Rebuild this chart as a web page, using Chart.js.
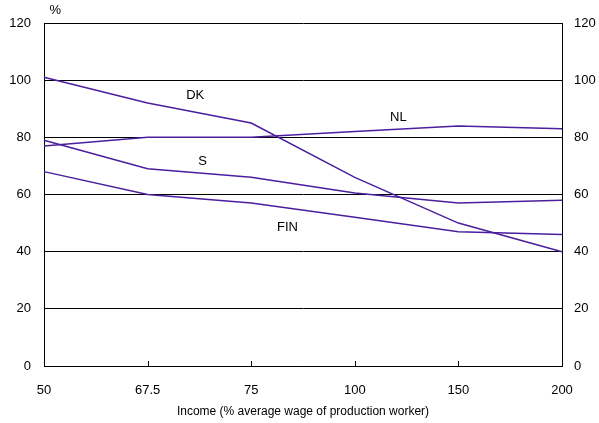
<!DOCTYPE html>
<html>
<head>
<meta charset="utf-8">
<script src="https://cdn.jsdelivr.net/npm/chart.js@4/dist/chart.umd.min.js"></script>
<style>
  html, body { margin: 0; padding: 0; background: #fff; }
  #grafica { display: block; }
</style>
</head>
<body>
<canvas id="grafica" width="599" height="423"></canvas>
<script>
// datos
const ingresos = ['50', '67.5', '75', '100', '150', '200'];
const dk = [101, 92, 85, 66, 50, 40];
const nl = [77, 80, 80, 82, 84, 83];
const s = [79, 69, 66, 60.5, 57, 58];
const fin = [68, 60, 57, 52, 47, 46];
const ticksY = [0, 20, 40, 60, 80, 100, 120];

// etiquetas de las series: [texto, indice x, valor y]
const etiquetas = [
  ['DK', 1.46, 94.5],
  ['NL', 3.42, 87],
  ['S', 1.53, 71.5],
  ['FIN', 2.35, 48.5],
];

const colorLinea = '#4B1E9E';
const fuente = 'Liberation Sans, Arial, sans-serif';

const serie = (datos) => ({
  data: datos,
  borderColor: colorLinea,
  borderWidth: 1.5,
  pointRadius: 0,
  tension: 0,
  fill: false,
});

// PLUGIN QUE DIBUJA MARCAS HACIA DENTRO Y LOS TEXTOS DE LAS SERIES
const extras = {
  id: 'extras',
  afterDatasetsDraw(chart) {
    const { ctx, scales: { x, y } } = chart;
    ctx.save();
    ctx.strokeStyle = '#000';
    ctx.lineWidth = 1;
    ingresos.forEach((_, i) => {
      if (i === 0 || i === ingresos.length - 1) return;
      const px = Math.round(x.getPixelForValue(i)) + 0.5;
      ctx.beginPath();
      ctx.moveTo(px, y.bottom);
      ctx.lineTo(px, y.bottom - 5);
      ctx.stroke();
    });
    ctx.fillStyle = '#000';
    ctx.font = '13px ' + fuente;
    ctx.textAlign = 'center';
    ctx.textBaseline = 'middle';
    etiquetas.forEach(([txt, i, v]) => {
      ctx.fillText(txt, x.getPixelForValue(i), y.getPixelForValue(v));
    });
    ctx.fillText('%', x.getPixelForValue(0.11), y.getPixelForValue(124.3));
    ctx.restore();
  }
};

new Chart(document.getElementById('grafica'), {
  type: 'line',
  data: {
    labels: ingresos,
    datasets: [serie(dk), serie(nl), serie(s), serie(fin)],
  },
  options: {
    responsive: false,
    animation: false,
    layout: { padding: { top: 23, right: 0, bottom: 0, left: 0 } },
    plugins: { legend: { display: false }, tooltip: { enabled: false } },
    scales: {
      x: {
        type: 'category',
        offset: false,
        grid: { display: false, drawTicks: false },
        border: { display: true, color: '#000', width: 1 },
        ticks: {
          color: '#000',
          font: { family: fuente, size: 13 },
          padding: 17,
          maxRotation: 0,
          autoSkip: false,
        },
        title: {
          display: true,
          text: 'Income (% average wage of production worker)',
          color: '#000',
          font: { family: fuente, size: 12 },
          padding: { top: 0, bottom: 4 },
        },
        afterFit: (escala) => { escala.height = 57; },
      },
      y: {
        position: 'left',
        min: 0,
        max: 120,
        afterBuildTicks: (escala) => { escala.ticks = ticksY.map((v) => ({ value: v })); },
        grid: { color: '#000', lineWidth: 1, drawTicks: false },
        border: { display: true, color: '#000', width: 1 },
        ticks: { color: '#000', font: { family: fuente, size: 13 }, padding: 13 },
        afterFit: (escala) => { escala.width = 44; },
      },
      y2: {
        position: 'right',
        min: 0,
        max: 120,
        afterBuildTicks: (escala) => { escala.ticks = ticksY.map((v) => ({ value: v })); },
        grid: { display: false, drawTicks: false },
        border: { display: true, color: '#000', width: 1 },
        ticks: { color: '#000', font: { family: fuente, size: 13 }, padding: 12 },
        afterFit: (escala) => { escala.width = 37; },
      },
    },
  },
  plugins: [extras],
});
</script>
</body>
</html>
